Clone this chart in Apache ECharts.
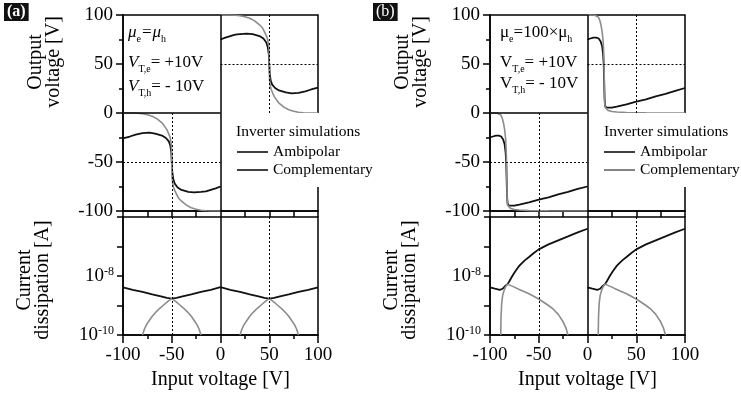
<!DOCTYPE html>
<html><head><meta charset="utf-8">
<script src="https://cdn.jsdelivr.net/npm/echarts@6/dist/echarts.min.js"></script>
<style>html,body{margin:0;padding:0;background:#fff}#c{width:741px;height:400px}</style>
</head><body><div id="c"></div>
<script>
// ---------- panel (a): mu_e = mu_h ----------
const aTopAmbiL = [[-100,-26],[-93,-24],[-87,-22],[-80,-20.5],[-73,-20],[-67,-21],[-60,-23],[-56,-25.5],[-53,-29],[-51.5,-33],[-50.5,-40],[-50,-50],[-49.5,-60],[-48.5,-67],[-47,-72],[-44,-76],[-40,-78.5],[-33,-80.5],[-27,-81],[-20,-80.5],[-15,-80],[-10,-78.5],[-5,-77],[0,-75]];
const aTopAmbiR = [[0,75],[5,77],[10,78.5],[15,80],[20,80.5],[27,81],[33,80.5],[40,78.5],[44,76],[47,72],[48.5,67],[49.5,60],[50,50],[50.5,40],[51.5,33],[53,29],[56,25.5],[60,23],[67,21],[73,20],[80,20.5],[87,22],[93,24],[100,26]];
const aTopCompL = [[-100,0],[-90,0],[-85,-0.2],[-80,-0.7],[-75,-1.8],[-70,-3.4],[-65,-6],[-60,-10],[-55,-17],[-52,-24],[-51,-28],[-50.3,-34],[-50,-50],[-49.7,-66],[-49,-72],[-48,-76],[-47,-79],[-45,-83],[-43,-87],[-40,-90],[-35,-94],[-30,-96.6],[-25,-98.2],[-20,-99.3],[-15,-99.8],[-10,-100],[0,-100]];
const aTopCompR = [[0,100],[10,100],[15,99.8],[20,99.3],[25,98.2],[30,96.6],[35,94],[40,90],[43,87],[45,83],[47,79],[48,76],[49,72],[49.7,66],[50,50],[50.3,34],[51,28],[52,24],[55,17],[60,10],[65,6],[70,3.4],[75,1.8],[80,0.7],[85,0.2],[90,0],[100,0]];
const aBotAmbiL = [[-100,4.1e-9],[-90,3.4e-9],[-80,2.9e-9],[-70,2.4e-9],[-60,2.0e-9],[-55,1.8e-9],[-50,1.72e-9],[-45,1.8e-9],[-40,2.0e-9],[-30,2.4e-9],[-20,2.9e-9],[-10,3.4e-9],[0,4.2e-9]];
const aBotAmbiR = [[0,4.2e-9],[10,3.4e-9],[20,2.9e-9],[30,2.4e-9],[40,2.0e-9],[45,1.8e-9],[50,1.72e-9],[55,1.8e-9],[60,2.0e-9],[70,2.4e-9],[80,2.9e-9],[90,3.4e-9],[100,4.1e-9]];
const aBotCompL = [[-80,1e-10],[-78,1.6e-10],[-76,2.2e-10],[-73,3.1e-10],[-70,4.3e-10],[-66,6.1e-10],[-62,8.2e-10],[-58,1.06e-9],[-54,1.37e-9],[-52,1.53e-9],[-50,1.72e-9],[-48,1.53e-9],[-46,1.37e-9],[-42,1.06e-9],[-38,8.2e-10],[-34,6.1e-10],[-30,4.3e-10],[-27,3.1e-10],[-24,2.2e-10],[-22,1.6e-10],[-20,1e-10]];
const aBotCompR = [[20,1e-10],[22,1.6e-10],[24,2.2e-10],[27,3.1e-10],[30,4.3e-10],[34,6.1e-10],[38,8.2e-10],[42,1.06e-9],[46,1.37e-9],[48,1.53e-9],[50,1.72e-9],[52,1.53e-9],[54,1.37e-9],[58,1.06e-9],[62,8.2e-10],[66,6.1e-10],[70,4.3e-10],[73,3.1e-10],[76,2.2e-10],[78,1.6e-10],[80,1e-10]];

// ---------- panel (b): mu_e = 100 x mu_h ----------
const bTopAmbiL = [[-100,-25],[-97,-24],[-94,-23],[-91,-23],[-88.5,-24],[-86.5,-27],[-85,-32],[-84,-40],[-83.4,-50],[-83,-65],[-82.5,-85],[-82,-92],[-81,-94.5],[-79,-95],[-75,-94.5],[-70,-93.5],[-60,-91.2],[-50,-88.5],[-40,-86],[-30,-83],[-20,-80.5],[-10,-77.5],[0,-75]];
const bTopAmbiR = [[0,75],[3,76],[6,77],[9,77],[11.5,76],[13.5,73],[15,68],[16,60],[16.6,50],[17,35],[17.5,15],[18,8],[19,5.5],[21,5],[25,5.5],[30,6.5],[40,8.8],[50,11.5],[60,14],[70,17],[80,19.5],[90,22.5],[100,25.5]];
const bTopCompL = [[-100,0],[-93,0],[-91,-0.5],[-89,-2],[-87.5,-5],[-86,-11],[-85,-17],[-84,-26],[-83.4,-38],[-83,-50],[-82.7,-70],[-82.4,-88],[-82,-94],[-81,-96],[-79,-97.3],[-75,-98.4],[-70,-99],[-60,-99.6],[-40,-99.9],[0,-100]];
const bTopCompR = [[0,100],[7,100],[9,99.5],[11,98],[12.5,95],[14,89],[15,83],[16,74],[16.6,62],[17,50],[17.3,30],[17.6,12],[18,6],[19,4],[21,2.7],[25,1.6],[30,1],[40,0.4],[60,0.1],[100,0]];
const bBotAmbiL = [[-100,4.1e-9],[-95,3.7e-9],[-90,3.4e-9],[-88.5,3.25e-9],[-87,3.7e-9],[-85,4.4e-9],[-82,5.3e-9],[-80,6.8e-9],[-78,8.9e-9],[-76,1.15e-8],[-74,1.45e-8],[-72,1.8e-8],[-70,2.2e-8],[-67,2.8e-8],[-64,3.45e-8],[-60,4.4e-8],[-55,6e-8],[-50,8e-8],[-40,1.18e-7],[-30,1.62e-7],[-20,2.2e-7],[-10,3e-7],[0,4e-7]];
const bBotAmbiR = [[0,4.1e-9],[5,3.7e-9],[10,3.4e-9],[11.5,3.25e-9],[13,3.7e-9],[15,4.4e-9],[18,5.3e-9],[20,6.8e-9],[22,8.9e-9],[24,1.15e-8],[26,1.45e-8],[28,1.8e-8],[30,2.2e-8],[33,2.8e-8],[36,3.45e-8],[40,4.4e-8],[45,6e-8],[50,8e-8],[60,1.18e-7],[70,1.62e-7],[80,2.2e-7],[90,3e-7],[100,4e-7]];
const bBotCompL = [[-89,1e-10],[-88.7,4e-10],[-88,1.2e-9],[-87,2.2e-9],[-85.5,3.3e-9],[-84,4.3e-9],[-82,5.3e-9],[-75,4.2e-9],[-70,3.5e-9],[-60,2.5e-9],[-50,1.66e-9],[-40,1e-9],[-35,7.5e-10],[-30,5e-10],[-25,2.8e-10],[-22,1.7e-10],[-20,1e-10]];
const bBotCompR = [[11,1e-10],[11.3,4e-10],[12,1.2e-9],[13,2.2e-9],[14.5,3.3e-9],[16,4.3e-9],[18,5.3e-9],[25,4.2e-9],[30,3.5e-9],[40,2.5e-9],[50,1.66e-9],[60,1e-9],[65,7.5e-10],[70,5e-10],[75,2.8e-10],[78,1.7e-10],[80,1e-10]];

// ---------- axes / labels ----------
const xTickValues = [-100, -50, 0, 50, 100];
const logLabelExps = [-10, -8];
const legendNames = ['Ambipolar', 'Complementary'];

const SERIF = "'Liberation Serif','Times New Roman',serif";
const BLACK = '#111';
const GRAY = '#8c8c8c';

const gridDefs = [
  {left: 123, top: 15, width: 195, height: 196},
  {left: 123, top: 217, width: 195, height: 118},
  {left: 490, top: 15, width: 195, height: 196},
  {left: 490, top: 217, width: 195, height: 118}
];

const frame = {lineStyle: {color: '#000', width: 1.5}};

function topX(g) {
  return {gridIndex: g, type: 'value', min: -100, max: 100, interval: 25,
    axisLine: {show: true, onZero: false, ...frame}, axisLabel: {show: false},
    axisTick: {show: true, length: 6, lineStyle: {color: '#000', width: 1.5}},
    splitLine: {show: false}};
}
function botX(g) {
  return {gridIndex: g, type: 'value', min: -100, max: 100, interval: 50,
    axisLine: {show: true, onZero: false, ...frame},
    axisTick: {show: true, length: 8, lineStyle: {color: '#000', width: 1.5}},
    minorTick: {show: true, splitNumber: 2, length: 4, lineStyle: {color: '#000', width: 1.5}},
    axisLabel: {show: true, color: '#000', fontFamily: SERIF, fontSize: 19, margin: 11,
      formatter: v => xTickValues.includes(v) ? String(v) : ''},
    name: 'Input voltage [V]', nameLocation: 'middle', nameGap: 35,
    nameTextStyle: {color: '#000', fontFamily: SERIF, fontSize: 20},
    splitLine: {show: false}};
}
function topY(g) {
  return {gridIndex: g, type: 'value', min: -100, max: 100, interval: 50,
    axisLine: {show: true, onZero: false, ...frame},
    axisTick: {show: true, length: 7, lineStyle: {color: '#000', width: 1.5}},
    minorTick: {show: true, splitNumber: 2, length: 4, lineStyle: {color: '#000', width: 1.5}},
    axisLabel: {color: '#000', fontFamily: SERIF, fontSize: 19, margin: 10},
    splitLine: {show: false}};
}
function botY(g) {
  return {gridIndex: g, type: 'log', logBase: 10, min: 1e-10, max: 1e-6,
    axisLine: {show: true, onZero: false, ...frame},
    axisTick: {show: true, length: 6, lineStyle: {color: '#000', width: 1.5}},
    axisLabel: {color: '#000', fontFamily: SERIF, fontSize: 19, margin: 9,
      formatter: v => {
        const e = Math.round(Math.log10(v));
        return logLabelExps.includes(e) ? '10{sup|' + e + '}' : '';
      },
      rich: {sup: {fontSize: 12, fontFamily: SERIF, color: '#000', verticalAlign: 'top', padding: [0, 0, 9, 0]}}},
    splitLine: {show: false}};
}

function curve(name, data, g, color, width, markLine) {
  const s = {name, type: 'line', xAxisIndex: g, yAxisIndex: g, data,
    showSymbol: false, symbol: 'none', smooth: false, silent: true, animation: false,
    lineStyle: {color, width}, itemStyle: {color}, z: 3};
  if (markLine) s.markLine = markLine;
  return s;
}

const solid = {color: '#000', width: 1.5, type: 'solid'};
const dots = {color: '#000', width: 1, type: [2, 2]};
function ml(data) {
  return {silent: true, symbol: 'none', animation: false, label: {show: false},
    emphasis: {disabled: true}, data};
}
function topMarks() {
  return ml([
    {xAxis: 0, lineStyle: solid},
    [{coord: [-100, 0], lineStyle: solid}, {coord: [0, 0]}],
    [{coord: [0, 50], lineStyle: dots}, {coord: [100, 50]}],
    [{coord: [-100, -50], lineStyle: dots}, {coord: [0, -50]}],
    [{coord: [50, 0], lineStyle: dots}, {coord: [50, 100]}],
    [{coord: [-50, -100], lineStyle: dots}, {coord: [-50, 0]}]
  ]);
}
function botMarks() {
  return ml([
    {xAxis: 0, lineStyle: solid},
    {xAxis: -50, lineStyle: dots},
    {xAxis: 50, lineStyle: dots}
  ]);
}

const series = [
  curve('Ambipolar', aTopAmbiL, 0, BLACK, 1.8, topMarks()),
  curve('Ambipolar', aTopAmbiR, 0, BLACK, 1.8),
  curve('Complementary', aTopCompL, 0, GRAY, 1.6),
  curve('Complementary', aTopCompR, 0, GRAY, 1.6),
  curve('Ambipolar', aBotAmbiL, 1, BLACK, 1.8, botMarks()),
  curve('Ambipolar', aBotAmbiR, 1, BLACK, 1.8),
  curve('Complementary', aBotCompL, 1, GRAY, 1.6),
  curve('Complementary', aBotCompR, 1, GRAY, 1.6),
  curve('Ambipolar', bTopAmbiL, 2, BLACK, 1.8, topMarks()),
  curve('Ambipolar', bTopAmbiR, 2, BLACK, 1.8),
  curve('Complementary', bTopCompL, 2, GRAY, 1.6),
  curve('Complementary', bTopCompR, 2, GRAY, 1.6),
  curve('Ambipolar', bBotAmbiL, 3, BLACK, 1.8, botMarks()),
  curve('Ambipolar', bBotAmbiR, 3, BLACK, 1.8),
  curve('Complementary', bBotCompL, 3, GRAY, 1.6),
  curve('Complementary', bBotCompR, 3, GRAY, 1.6)
];

function legendAt(left, compColor) {
  return {left, top: 113, orient: 'vertical', padding: [30, 6, 8, 2], backgroundColor: '#fff',
    itemWidth: 31, itemHeight: 1.6, itemGap: 0, icon: 'rect', selectedMode: false,
    textStyle: {color: '#000', fontFamily: SERIF, fontSize: 15.5, lineHeight: 18},
    data: [{name: legendNames[0], itemStyle: {color: BLACK}},
           {name: legendNames[1], itemStyle: {color: compColor}}]};
}

function panelTag(text, left, bold) {
  return {text, left, top: 3, backgroundColor: '#111', padding: [1, 3, 1, 3],
    textStyle: {color: '#fff', fontFamily: SERIF, fontSize: 16, fontWeight: bold ? 'bold' : 'normal'}};
}
function legendTitle(left) {
  return {text: 'Inverter simulations', left, top: 124, padding: 0,
    textStyle: {color: '#000', fontFamily: SERIF, fontSize: 15.5, fontWeight: 'normal'}};
}

function yName(text, x, y) {
  return {type: 'text', x, y, rotation: Math.PI / 2, silent: true,
    style: {text, fill: '#000', font: '20px ' + SERIF, align: 'center', verticalAlign: 'middle', lineHeight: 18}};
}
const richAnno = {
  i: {fontFamily: SERIF, fontSize: 17, fontStyle: 'italic', color: '#000', lineHeight: 22},
  n: {fontFamily: SERIF, fontSize: 17, color: '#000', lineHeight: 22},
  s: {fontFamily: SERIF, fontSize: 10, color: '#000', lineHeight: 22, verticalAlign: 'bottom', padding: [8, 0, 0, 0]}
};
function anno(text, x, y) {
  return {type: 'text', x, y, silent: true,
    style: {text, rich: richAnno, align: 'left', verticalAlign: 'middle', fill: '#000', font: '17px ' + SERIF}};
}

const option = {
  backgroundColor: '#fff',
  animation: false,
  grid: gridDefs.map(g => ({...g, show: true, borderColor: '#000', borderWidth: 1.5, containLabel: false})),
  xAxis: [topX(0), botX(1), topX(2), botX(3)],
  yAxis: [topY(0), botY(1), topY(2), botY(3)],
  series,
  legend: [legendAt(235, BLACK), legendAt(602, '#666')],
  title: [panelTag('(a)', 4, true), panelTag('(b)', 373, false), legendTitle(236), legendTitle(604)],
  graphic: [
    yName('Output\nvoltage [V]', 45, 62),
    yName('Current\ndissipation [A]', 34, 280),
    yName('Output\nvoltage [V]', 412, 62),
    yName('Current\ndissipation [A]', 401, 280),
    anno('{i|μ}{s|e}{i|=μ}{s|h}', 128, 33),
    anno('{i|V}{s|T,e}{n|= +10V}', 128, 63),
    anno('{i|V}{s|T,h}{n|= - 10V}', 128, 87),
    anno('{n|μ}{s|e}{n|=100×μ}{s|h}', 500, 33),
    anno('{n|V}{s|T,e}{n|= +10V}', 500, 63),
    anno('{n|V}{s|T,h}{n|= - 10V}', 500, 84)
  ]
};

const chart = echarts.init(document.getElementById('c'), null, {renderer: 'canvas'});
chart.setOption(option);
</script>
</body></html>
